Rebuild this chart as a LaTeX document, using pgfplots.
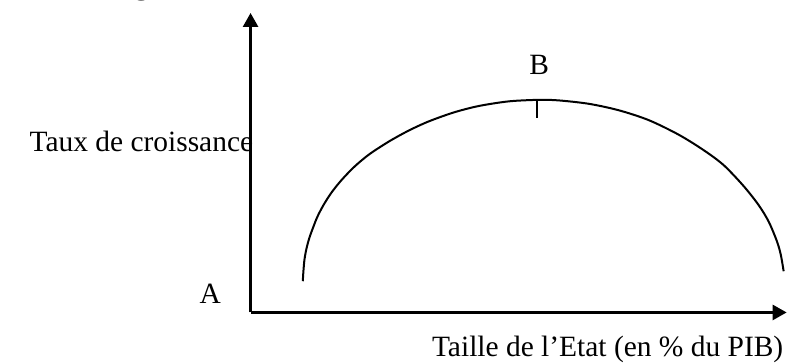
\documentclass[border=0pt]{standalone}
\usepackage{fontspec}
\setmainfont{Liberation Serif}
\usepackage{pgfplots}
\pgfplotsset{compat=1.18}
\usetikzlibrary{arrows.meta}
\newcommand\lbl{\fontsize{14.75bp}{17bp}\selectfont}
\begin{document}
\begin{tikzpicture}
\begin{axis}[
  scale only axis,
  width=268.5bp, height=150bp,
  xmin=251, xmax=788, ymin=50, ymax=350,
  axis lines=left,
  ticks=none,
  clip=false,
  axis line style={line width=1.35bp, -{Triangle[width=7.5bp,length=7bp]}},
]
\path (axis cs:0,0) rectangle (axis cs:788,363);
\addplot[black, line width=1bp, smooth] coordinates {
(303.3,81.3) (304,92) (305,103) (307,114) (310,125) (314,136) (318,146)
(324,157.5) (332,170) (342,182.5) (355,196) (370,208.5) (390,221.5) (410,232.5)
(430,241.6) (455,250.5) (480,256.9) (510,261.5) (540,263)
(560,262.4) (590,259) (620,252.5) (650,242.6) (680,228) (705,212.5)
(725,197.5) (745,176.5) (760,157.5) (770,141) (778,122) (782,108.5)
(785,91.3)};
\addplot[black, line width=1bp] coordinates {(538,263) (538,245)};
\node[inner sep=0pt, anchor=base east] at (axis cs:254,211) {\lbl Taux de croissance};
\node[inner sep=0pt, anchor=base east] at (axis cs:785,6) {\lbl Taille de l’Etat (en \% du PIB)};
\node[inner sep=0pt, anchor=base] at (axis cs:210.5,59) {\lbl A};
\node[inner sep=0pt, anchor=base] at (axis cs:540,288) {\lbl B};
\node[overlay, inner sep=0pt, anchor=base] at (axis cs:142,369) {\lbl\bfseries g};
\end{axis}
\end{tikzpicture}
\end{document}
